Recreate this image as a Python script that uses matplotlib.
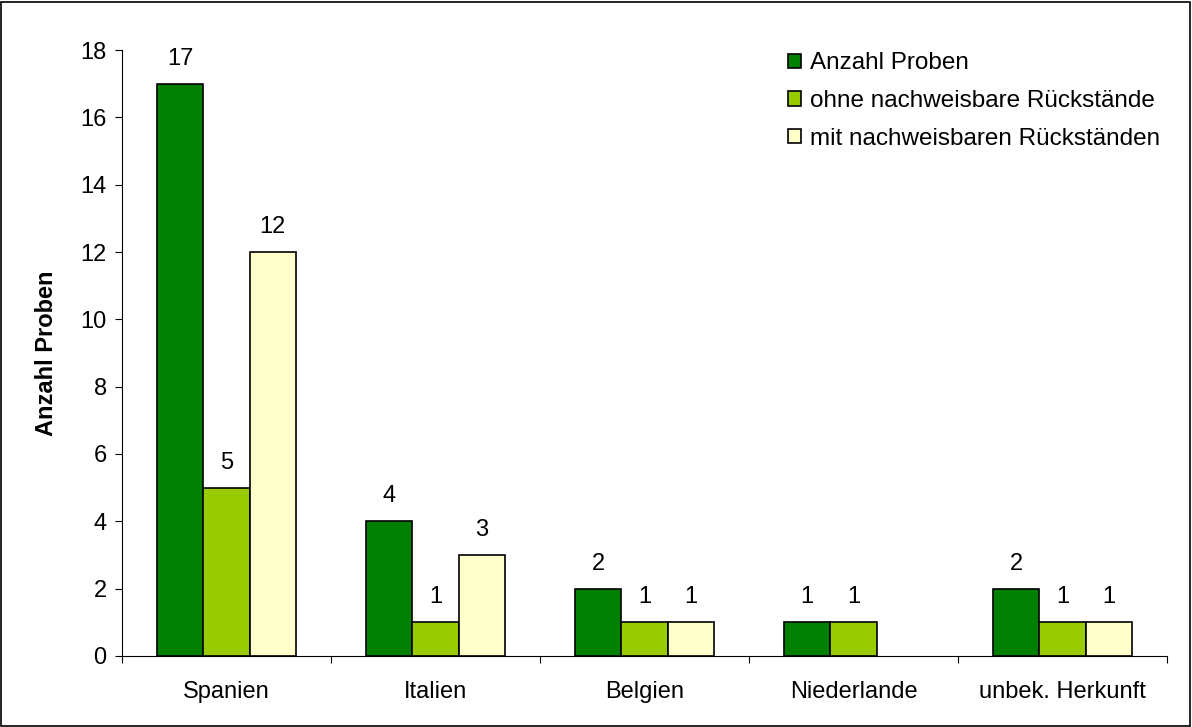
import numpy as np
import matplotlib
matplotlib.use("Agg")
import matplotlib.pyplot as plt
from matplotlib.patches import Rectangle

categories = ["Spanien", "Italien", "Belgien", "Niederlande", "unbek. Herkunft"]
series_names = ["Anzahl Proben", "ohne nachweisbare Rückstände", "mit nachweisbaren Rückständen"]
anzahl = [17, 4, 2, 1, 2]
ohne = [5, 1, 1, 1, 1]
mit = [12, 3, 1, 0, 1]
colors = ["#008000", "#99CC00", "#FFFFCC"]

plt.rcParams["font.family"] = ["Liberation Sans", "DejaVu Sans"]
FS = 17

fig = plt.figure(figsize=(11.92, 7.27), dpi=100)
ax = fig.add_axes([0.1023, 0.0977, 0.8767, 0.8335])

x = np.arange(len(categories))
w = 0.222
series = [anzahl, ohne, mit]
for i, (vals, col, name) in enumerate(zip(series, colors, series_names)):
    pos = x + (i - 1) * w
    shown = [(p, v) for p, v in zip(pos, vals) if v > 0]
    ax.bar([p for p, _ in shown], [v for _, v in shown], width=w, color=col,
           edgecolor="black", linewidth=1.2, label=name)
    for p, v in shown:
        ax.annotate(str(v), (p, v), xytext=(0, 10), textcoords="offset points",
                    ha="center", va="bottom", fontsize=FS)

ax.set_xlim(-0.5, len(categories) - 0.5)
ax.set_ylim(0, 18)
ax.set_yticks(range(0, 19, 2))
ax.set_xticks(np.arange(-0.5, len(categories), 1.0))
ax.set_xticklabels([])
ax.set_xticks(x, minor=True)
ax.set_xticklabels(categories, minor=True)
ax.tick_params(axis="x", which="minor", length=0, pad=18, labelsize=FS)
ax.tick_params(axis="x", which="major", length=5, direction="out")
ax.tick_params(axis="y", length=5, direction="out", labelsize=FS, pad=6)
for s in ["top", "right"]:
    ax.spines[s].set_visible(False)
ax.set_ylabel("Anzahl Proben", fontsize=FS, fontweight="bold", labelpad=16)

leg = ax.legend(loc="upper right", bbox_to_anchor=(1.007, 1.02), frameon=False,
                fontsize=17.5, handlelength=0.55, handleheight=0.55,
                handletextpad=0.35, labelspacing=0.64, borderaxespad=0.2)

fig.patches.append(Rectangle((0.001, 0.0015), 0.997, 0.996, transform=fig.transFigure,
                             fill=False, edgecolor="black", linewidth=1.2))

fig.savefig("out.png", dpi=100)
